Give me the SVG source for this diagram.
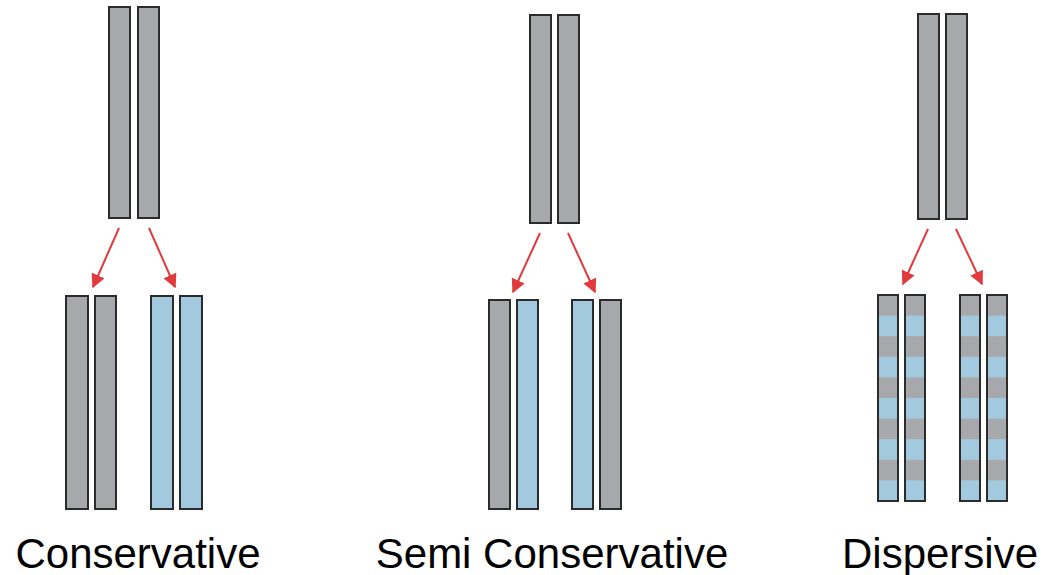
<svg xmlns="http://www.w3.org/2000/svg" width="1047" height="575" viewBox="0 0 1047 575">
<style>
.g{fill:#a7a8ac;stroke:#2b2b2b;stroke-width:2}
.b{fill:#a3c9de;stroke:#2b2b2b;stroke-width:2}
.o{fill:none;stroke:#2b2b2b;stroke-width:2}
.a{stroke:#e03a3c;stroke-width:2;fill:none;marker-end:url(#ah)}
text{font-family:"Liberation Sans",Arial,sans-serif;font-size:42px;fill:#000;text-anchor:middle}
</style>
<defs>
<marker id="ah" viewBox="0 0 10 10" refX="9" refY="5" markerWidth="7" markerHeight="7" orient="auto" markerUnits="strokeWidth"><path d="M0,0L10,5L0,10z" fill="#e03a3c"/></marker>
<pattern id="st" x="0" y="295" width="10" height="41.2" patternUnits="userSpaceOnUse"><rect width="10" height="20.6" fill="#a7a8ac"/><rect y="20.6" width="10" height="20.6" fill="#a3c9de"/></pattern>
</defs>
<g id="conservative">
<rect class="g" x="109" y="7" width="21" height="211"/><rect class="g" x="138" y="7" width="21" height="211"/>
<rect class="g" x="66" y="296" width="22" height="213"/><rect class="g" x="95" y="296" width="21" height="213"/>
<rect class="b" x="151" y="296" width="22" height="213"/><rect class="b" x="180" y="296" width="22" height="213"/>
<text x="138" y="568">Conservative</text>
</g>
<g id="semi">
<rect class="g" x="530" y="15" width="21" height="208"/><rect class="g" x="558" y="15" width="21" height="208"/>
<rect class="g" x="489" y="300" width="21" height="209"/><rect class="b" x="517" y="300" width="21" height="209"/>
<rect class="b" x="572" y="300" width="21" height="209"/><rect class="g" x="600" y="300" width="21" height="209"/>
<text x="552" y="568">Semi Conservative</text>
</g>
<g id="dispersive">
<rect class="g" x="918" y="14" width="21" height="205"/><rect class="g" x="946" y="14" width="21" height="205"/>
<g fill="url(#st)"><rect x="878" y="295" width="20" height="206"/><rect x="905" y="295" width="20" height="206"/><rect x="960" y="295" width="20" height="206"/><rect x="987" y="295" width="20" height="206"/></g>
<rect class="o" x="878" y="295" width="20" height="206"/><rect class="o" x="905" y="295" width="20" height="206"/><rect class="o" x="960" y="295" width="20" height="206"/><rect class="o" x="987" y="295" width="20" height="206"/>
<text x="940" y="568">Dispersive</text>
</g>
<g id="connectors">
<line class="a" x1="119" y1="228" x2="93" y2="287"/><line class="a" x1="149" y1="228" x2="175" y2="287"/>
<line class="a" x1="540" y1="233" x2="513" y2="292"/><line class="a" x1="568" y1="233" x2="595" y2="292"/>
<line class="a" x1="928" y1="229" x2="903" y2="284"/><line class="a" x1="956" y1="229" x2="982" y2="284"/>
</g>
</svg>
